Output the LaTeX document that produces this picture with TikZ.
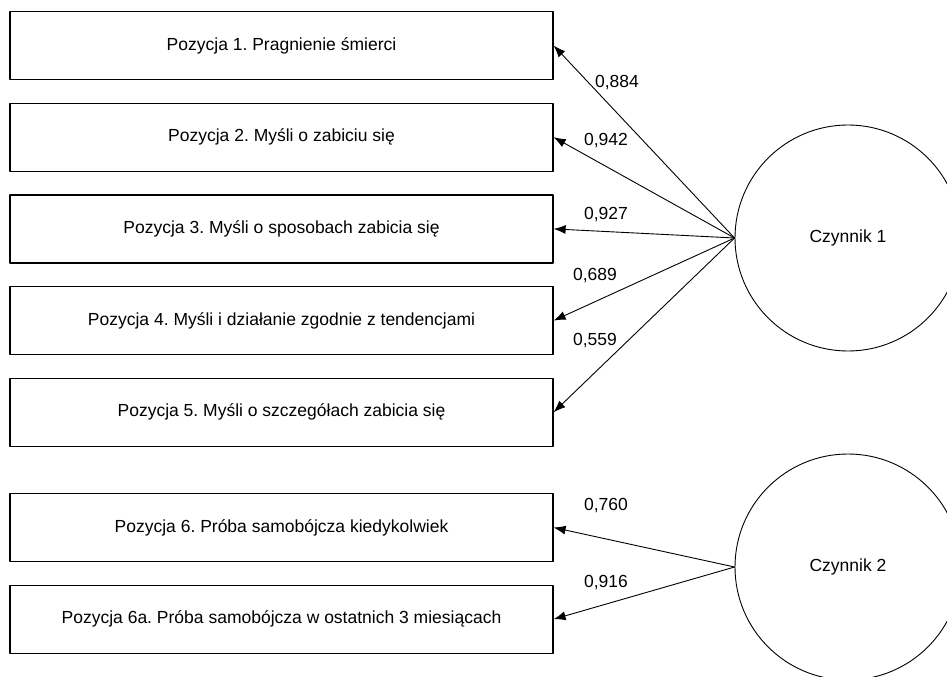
\documentclass[tikz,border=0pt]{standalone}
\usepackage{fontspec}
\setmainfont{Liberation Sans}
\usetikzlibrary{arrows.meta,positioning}
\frenchspacing

\begin{document}
\begin{tikzpicture}[x=1bp, y=-1bp, >={Latex[length=12bp,width=9bp]},
            line cap=round, line join=round,
            item/.style={draw, line width=1.2bp, minimum width=543bp, minimum height=68bp, inner sep=0pt},
            factor/.style={draw, circle, line width=0.9bp, minimum size=226bp, inner sep=0pt},
            loading/.style={->, line width=0.9bp},
            font=\fontsize{17.5bp}{21bp}\selectfont
        ]
        \useasboundingbox (0,0) rectangle (947,677);

        % (1) Pozycje skali
        \node[item] (b1) at (281.5,45.5) {Pozycja 1. Pragnienie śmierci};
        \node[item, below=22.5bp of b1] (b2) {Pozycja 2. Myśli o zabiciu się};
        \node[item, below=22.5bp of b2] (b3) {Pozycja 3. Myśli o sposobach zabicia się};
        \node[item, below=22.5bp of b3] (b4) {Pozycja 4. Myśli i działanie zgodnie z tendencjami};
        \node[item, below=22.5bp of b4] (b5) {Pozycja 5. Myśli o szczegółach zabicia się};

        \node[item, below=46bp of b5] (b6) {Pozycja 6. Próba samobójcza kiedykolwiek};
        \node[item, below=22.5bp of b6] (b6a) {Pozycja 6a. Próba samobójcza w ostatnich 3 miesiącach};

        % (2) Czynniki
        \node[factor] (c1) at (848,238) {Czynnik 1};
        \node[factor] (c2) at (848,567) {Czynnik 2};

        % (3) Ładunki czynnikowe
        \foreach \b in {b1,b2,b3,b4,b5}
            \draw[loading] (c1.west) -- (\b.east);
        \foreach \b in {b6,b6a}
            \draw[loading] (c2.west) -- (\b.east);

        \node (w1) at (617,83) {0,884};
        \node (w2) at (606,141) {0,942};
        \node (w3) at (606,215) {0,927};
        \node (w4) at (595,276) {0,689};
        \node (w5) at (595,341) {0,559};
        \node (w6) at (606,506) {0,760};
        \node (w6a) at (606,583) {0,916};

\end{tikzpicture}
\end{document}
